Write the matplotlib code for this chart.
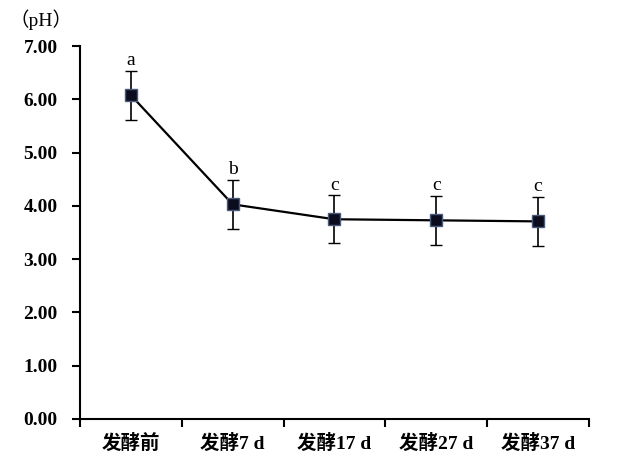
import matplotlib
matplotlib.use("Agg")
from matplotlib import pyplot as plt
import numpy as np

# data
labels = ["发酵前", "发酵7 d", "发酵17 d", "发酵27 d", "发酵37 d"]
ph = [6.08, 4.03, 3.75, 3.73, 3.71]
err = [0.46, 0.46, 0.45, 0.46, 0.46]
letters = ["a", "b", "c", "c", "c"]
yticks = [0, 1, 2, 3, 4, 5, 6, 7]

fonts = ["Liberation Serif", "Noto Sans CJK SC", "DejaVu Sans"]
plt.rcParams['font.family'] = fonts

fig = plt.figure(figsize=(6.4, 4.67), dpi=100)
ax = fig.add_axes([0.125, 0.103, 0.795, 0.798])

x = np.arange(len(labels))
ax.errorbar(x, ph, yerr=err, fmt='-s', color='black', lw=1.6,
            ecolor='black', elinewidth=1.2, capsize=4, capthick=1.2,
            markersize=8.5, markerfacecolor='#0b0d1f', markeredgecolor='#4a5a78',
            markeredgewidth=1.0, zorder=3)

for xi, v, e, t in zip(x, ph, err, letters):
    ax.text(xi, v + e + 0.03, t, ha='center', va='bottom', fontsize=14,
            family=fonts)

ax.set_xlim(-0.5, len(labels) - 0.5)
ax.set_ylim(0, 7)
ax.set_yticks(yticks)
ax.set_yticklabels(["%.2f" % v for v in yticks], fontsize=14, fontweight='bold')
ax.set_xticks(np.arange(len(labels) + 1) - 0.5, minor=False)
ax.set_xticklabels([])
ax.set_xticks(x, minor=True)
ax.set_xticklabels(labels, minor=True, fontsize=14, fontweight='bold')
ax.tick_params(axis='x', which='minor', length=0, pad=11)
ax.tick_params(axis='x', which='major', length=6, width=1.5, direction='out')
ax.tick_params(axis='y', length=6, width=1.5, direction='out', pad=10)

for s in ['top', 'right']:
    ax.spines[s].set_visible(False)
for s in ['left', 'bottom']:
    ax.spines[s].set_linewidth(1.5)

fig.text(0.015, 0.98, "（pH）", fontsize=14, ha='left', va='top', family=fonts)

fig.savefig("out.png", dpi=100)
